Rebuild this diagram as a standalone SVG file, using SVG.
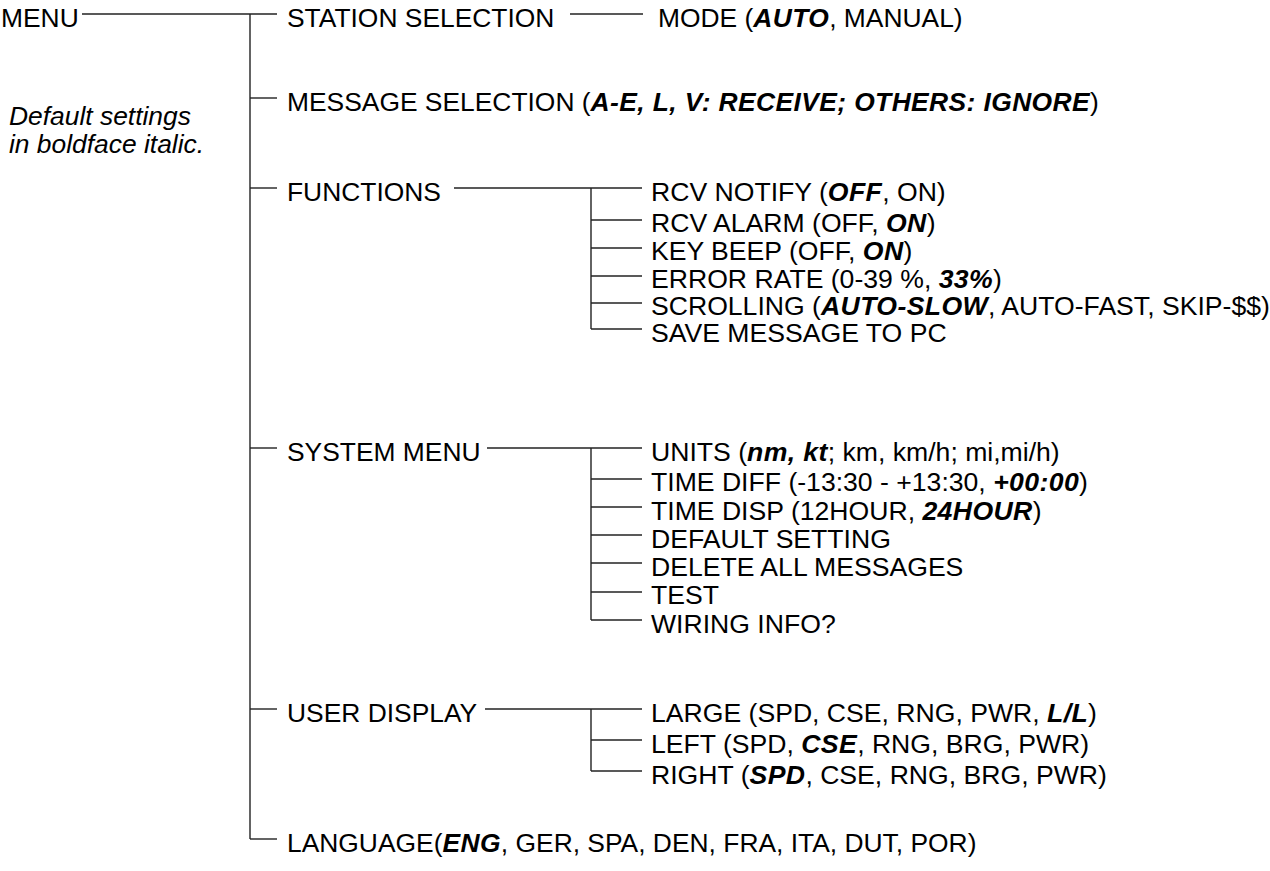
<svg xmlns="http://www.w3.org/2000/svg" width="1270" height="871" viewBox="0 0 1270 871">
<style>
text{font-family:"Liberation Sans",Arial,sans-serif;font-size:26.4px;fill:#000}
.s{font-size:26.6px}
.b{font-weight:bold;font-style:italic;letter-spacing:0.4px}
.i{font-style:italic}
line{stroke:#222;stroke-width:1.4;fill:none}
</style>
<rect width="1270" height="871" fill="#fff"/>
<g id="connectors">
<line x1="82" y1="14" x2="277" y2="14"/>
<line x1="250" y1="14" x2="250" y2="839"/>
<line x1="250" y1="98" x2="277" y2="98"/>
<line x1="250" y1="188" x2="277" y2="188"/>
<line x1="250" y1="448" x2="277" y2="448"/>
<line x1="250" y1="709" x2="277" y2="709"/>
<line x1="250" y1="839" x2="277" y2="839"/>
<line x1="570" y1="14" x2="643" y2="14"/>
<line x1="454" y1="188" x2="642" y2="188"/>
<line x1="591" y1="188" x2="591" y2="329"/>
<line x1="591" y1="220" x2="642" y2="220"/>
<line x1="591" y1="248" x2="642" y2="248"/>
<line x1="591" y1="276" x2="642" y2="276"/>
<line x1="591" y1="303" x2="642" y2="303"/>
<line x1="591" y1="329" x2="642" y2="329"/>
<line x1="487" y1="448" x2="642" y2="448"/>
<line x1="591" y1="448" x2="591" y2="620"/>
<line x1="591" y1="479" x2="642" y2="479"/>
<line x1="591" y1="507" x2="642" y2="507"/>
<line x1="591" y1="535" x2="642" y2="535"/>
<line x1="591" y1="563" x2="642" y2="563"/>
<line x1="591" y1="592" x2="642" y2="592"/>
<line x1="591" y1="620" x2="642" y2="620"/>
<line x1="485" y1="709" x2="642" y2="709"/>
<line x1="591" y1="709" x2="591" y2="771"/>
<line x1="591" y1="740" x2="642" y2="740"/>
<line x1="591" y1="771" x2="642" y2="771"/>
</g>
<g id="menu"><text x="1" y="26.5">MENU</text></g>
<g id="note"><text class="i" x="9" y="125">Default settings</text><text class="i" x="9" y="153">in boldface italic.</text></g>
<g id="station"><text x="287" y="26.5">STATION SELECTION</text></g>
<g id="mode"><text x="658" y="26.5">MODE (<tspan class="b">AUTO</tspan>, MANUAL)</text></g>
<g id="message"><text x="287" y="110.5">MESSAGE SELECTION (<tspan class="b">A-E, L, V: RECEIVE; OTHERS: IGNORE</tspan>)</text></g>
<g id="functions"><text x="287" y="200.5">FUNCTIONS</text></g>
<g id="rcv-notify"><text class="s" x="651" y="200.5">RCV NOTIFY (<tspan class="b">OFF</tspan>, ON)</text></g>
<g id="rcv-alarm"><text class="s" x="651" y="232">RCV ALARM (OFF, <tspan class="b">ON</tspan>)</text></g>
<g id="key-beep"><text class="s" x="651" y="260">KEY BEEP (OFF, <tspan class="b">ON</tspan>)</text></g>
<g id="error-rate"><text class="s" x="651" y="288">ERROR RATE (0-39 %, <tspan class="b">33%</tspan>)</text></g>
<g id="scrolling"><text class="s" x="651" y="315">SCROLLING (<tspan class="b">AUTO-SLOW</tspan>, AUTO-FAST, SKIP-$$)</text></g>
<g id="save"><text class="s" x="651" y="342">SAVE MESSAGE TO PC</text></g>
<g id="system"><text x="287" y="460.5">SYSTEM MENU</text></g>
<g id="units"><text class="s" x="651" y="460.5">UNITS (<tspan class="b">nm, kt</tspan>; km, km/h; mi,mi/h)</text></g>
<g id="time-diff"><text class="s" x="651" y="491">TIME DIFF (-13:30 - +13:30, <tspan class="b">+00:00</tspan>)</text></g>
<g id="time-disp"><text class="s" x="651" y="519.5">TIME DISP (12HOUR, <tspan class="b">24HOUR</tspan>)</text></g>
<g id="default"><text class="s" x="651" y="547.5">DEFAULT SETTING</text></g>
<g id="delete"><text class="s" x="651" y="575.5">DELETE ALL MESSAGES</text></g>
<g id="test"><text class="s" x="651" y="604">TEST</text></g>
<g id="wiring"><text class="s" x="651" y="632.5">WIRING INFO?</text></g>
<g id="user-display"><text x="287" y="721.5">USER DISPLAY</text></g>
<g id="large"><text class="s" x="651" y="721.5">LARGE (SPD, CSE, RNG, PWR, <tspan class="b">L/L</tspan>)</text></g>
<g id="left"><text class="s" x="651" y="752.5">LEFT (SPD, <tspan class="b">CSE</tspan>, RNG, BRG, PWR)</text></g>
<g id="right"><text class="s" x="651" y="783.5">RIGHT (<tspan class="b">SPD</tspan>, CSE, RNG, BRG, PWR)</text></g>
<g id="language"><text x="287" y="851.5">LANGUAGE(<tspan class="b">ENG</tspan>, GER, SPA, DEN, FRA, ITA, DUT, POR)</text></g>
</svg>
